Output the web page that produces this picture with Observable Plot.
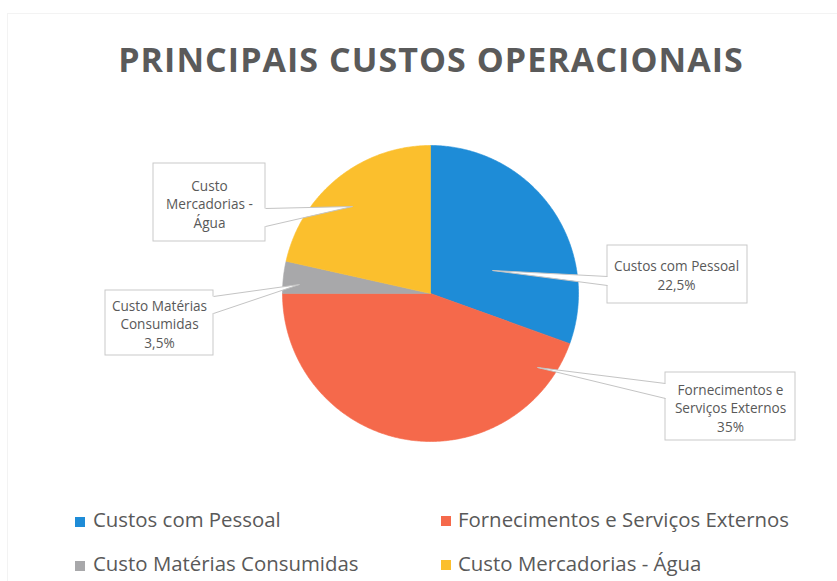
<!DOCTYPE html>
<html><head><meta charset="utf-8">
<script src="https://cdn.jsdelivr.net/npm/d3@7"></script>
<script src="https://cdn.jsdelivr.net/npm/@observablehq/plot@0.6"></script>
<style>
body{margin:0;background:#fff;font-family:"Open Sans",sans-serif;}
#wrap{position:relative;width:837px;height:581px;overflow:hidden;background:#fff;}
#frame{position:absolute;left:7px;top:13px;width:840px;height:580px;border:1px solid #f3f3f3;box-sizing:border-box;}
#title{position:absolute;left:0;width:862px;top:41.8px;text-align:center;font-size:34px;line-height:34px;letter-spacing:1.05px;font-weight:700;color:#5a5a5a;white-space:nowrap;}
#chart{position:absolute;left:0;top:100px;}
.sw{position:absolute;width:10px;height:10px;}
.lt{position:absolute;font-size:20.4px;line-height:20.4px;color:#595959;white-space:nowrap;}
</style></head>
<body><div id="wrap"><div id="frame"></div><div id="title"></div><div id="chart"></div><div id="legend"></div></div>
<script>
// ---- data ----
const title = "PRINCIPAIS CUSTOS OPERACIONAIS";
const categories = ["Custos com Pessoal", "Fornecimentos e Serviços Externos", "Custo Matérias Consumidas", "Custo Mercadorias - Água"];
const sliceShares = [30.5, 44.5, 3.5, 21.5];           // slice sizes as drawn in the picture
const labelLines = [
  ["Custos com Pessoal", "22,5%"],
  ["Fornecimentos e", "Serviços Externos", "35%"],
  ["Custo Matérias", "Consumidas", "3,5%"],
  ["Custo", "Mercadorias -", "Água"]
];
const colors = ["#1e8cd7", "#f5694b", "#a8a8aa", "#fbbf2d"];

// ---- layout ----
const W = 837, H = 370, TOP = 100;
const cx = 430, cy = 293, R = 148;
const callouts = [
  {box: [607, 245, 747, 303], tx: 676, ty: 274, anchor: [492, 270], base: [[607, 276], [607, 285]]},
  {box: [665, 372, 795, 440], tx: 730, ty: 407, anchor: [537, 367], base: [[665, 383], [665, 398]]},
  {box: [105, 290, 213, 355], tx: 159, ty: 323, anchor: [299, 284], base: [[213, 296], [213, 313]]},
  {box: [153, 163, 265, 241], tx: 209, ty: 203, anchor: [352, 206], base: [[265, 208], [265, 226]]}
];

document.getElementById("title").textContent = title;

const arcs = d3.pie().sort(null)(sliceShares);
const slicePts = [];
arcs.forEach((a, i) => {
  const cat = categories[i];
  slicePts.push({cat, x: cx, y: cy});
  const n = Math.max(2, Math.ceil((a.endAngle - a.startAngle) / 0.01));
  for (let k = 0; k <= n; k++) {
    const t = a.startAngle + (a.endAngle - a.startAngle) * k / n;
    slicePts.push({cat, x: cx + R * Math.sin(t), y: cy - R * Math.cos(t)});
  }
  slicePts.push({cat, x: cx, y: cy});
});

const boxes = callouts.map((c, i) => ({x1: c.box[0], y1: c.box[1], x2: c.box[2], y2: c.box[3]}));
const wedgePts = [];
const wedgeLinks = [];
callouts.forEach((c, i) => {
  const [b1, b2] = c.base;
  const inward = (c.base[0][0] === c.box[0]) ? 2 : -2;
  wedgePts.push({id: i, x: b1[0] + inward, y: b1[1]}, {id: i, x: c.anchor[0], y: c.anchor[1]}, {id: i, x: b2[0] + inward, y: b2[1]});
  wedgeLinks.push({x1: b1[0], y1: b1[1], x2: c.anchor[0], y2: c.anchor[1]});
  wedgeLinks.push({x1: b2[0], y1: b2[1], x2: c.anchor[0], y2: c.anchor[1]});
});
const texts = callouts.map((c, i) => ({x: c.tx, y: c.ty, t: labelLines[i].join("\n")}));

const chart = Plot.plot({
  width: W, height: H,
  margin: 0,
  x: {domain: [0, W], axis: null},
  y: {domain: [TOP + H, TOP], axis: null},
  color: {domain: categories, range: colors},
  style: {background: "transparent", fontFamily: "'Open Sans', sans-serif"},
  marks: [
    Plot.line(slicePts, {x: "x", y: "y", z: "cat", fill: "cat", stroke: "cat", strokeWidth: 0.6, curve: "linear"}),
    Plot.rect(boxes, {x1: "x1", x2: "x2", y1: "y1", y2: "y2", fill: "white", stroke: "#c9c9c9", strokeWidth: 1}),
    Plot.line(wedgePts, {x: "x", y: "y", z: "id", fill: "white", stroke: "none", curve: "linear"}),
    Plot.link(wedgeLinks, {x1: "x1", y1: "y1", x2: "x2", y2: "y2", stroke: "#c4c4c4", strokeWidth: 1}),
    Plot.text(texts, {x: "x", y: "y", text: "t", fill: "#595959", fontSize: 13.6, lineHeight: 1.36, textAnchor: "middle", lineAnchor: "middle"})
  ]
});
document.getElementById("chart").appendChild(chart);

// ---- legend ----
const legendPos = [[75, 517, 93, 508.9], [441, 516, 458, 508.9], [75, 561, 93, 552.9], [441, 560, 458, 552.9]];
const lg = document.getElementById("legend");
categories.forEach((c, i) => {
  const [sx, sy, tx, ty] = legendPos[i];
  const s = document.createElement("div");
  s.className = "sw"; s.style.left = sx + "px"; s.style.top = sy + "px"; s.style.background = colors[i];
  const t = document.createElement("div");
  t.className = "lt"; t.style.left = tx + "px"; t.style.top = ty + "px"; t.textContent = c;
  lg.appendChild(s); lg.appendChild(t);
});
</script></body></html>
